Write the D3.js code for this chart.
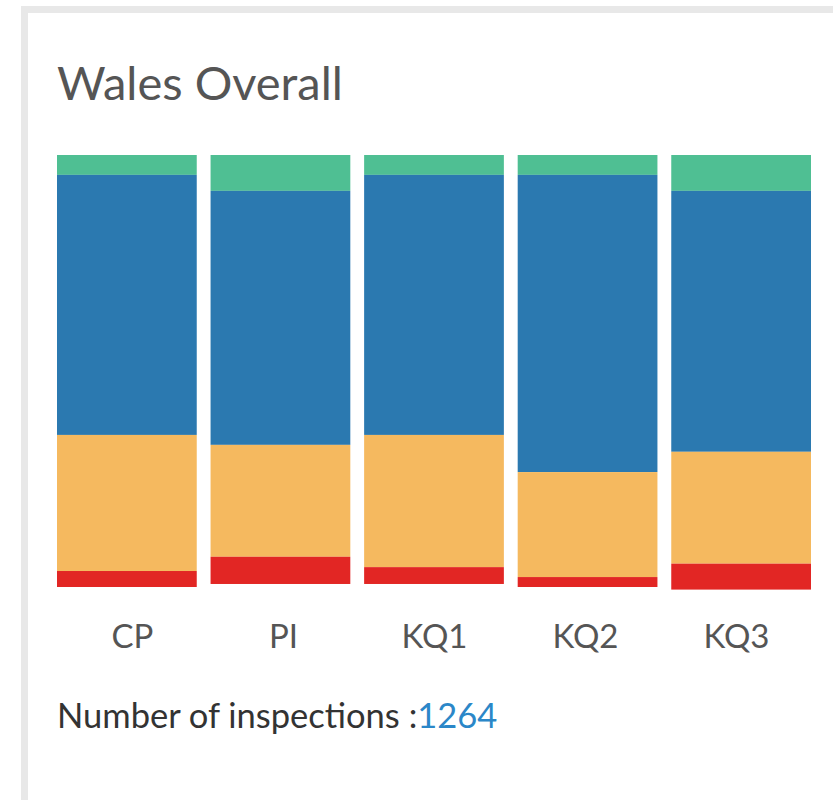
<!DOCTYPE html>
<html>
<head>
<meta charset="utf-8">
<script src="https://cdnjs.cloudflare.com/ajax/libs/d3/7.8.5/d3.min.js"></script>
<style>
	body { margin: 0; background: #fff; }
	svg { display: block; font-family: Lato, 'Open Sans', sans-serif; }
	.title { fill: #555; }
	.axis text { fill: #555; }
	.count { fill: #333; }
	.count-value { fill: #2b87c8; }
</style>
</head>
<body>
<svg></svg>
<script>
var width = 833;
var height = 800;

// inspection areas along the bottom
var areas = ['CP', 'PI', 'KQ1', 'KQ2', 'KQ3'];
// judgement shares (%) per area, top of bar to bottom
var excellent =      [4.6, 8.3, 4.6, 4.6, 8.3];
var good =           [60.2, 58.8, 60.2, 68.8, 60.4];
var adequate =       [31.5, 25.9, 30.6, 24.3, 25.9];
var unsatisfactory = [3.7, 6.3, 3.9, 2.3, 6.0];
var inspections = 1264;

var keys = ['excellent', 'good', 'adequate', 'unsatisfactory'];
var colors = ['#4fbf93', '#2b79b0', '#f5b95f', '#e22624'];

var data = areas.map((a, i) => ({
	area: a,
	excellent: excellent[i],
	good: good[i],
	adequate: adequate[i],
	unsatisfactory: unsatisfactory[i]
}));

var svg = d3.select('svg')
			.attr('width', width)
			.attr('height', height);

// panel frame, runs off the right and bottom edges
svg.append('rect')
	.attr('x', 24.5)
	.attr('y', 9.5)
	.attr('width', width + 20)
	.attr('height', height + 20)
	.attr('fill', '#fff')
	.attr('stroke', '#e8e8e8')
	.attr('stroke-width', 7);

svg.append('text')
	.classed('title', true)
	.attr('x', 57)
	.attr('y', 100)
	.attr('font-size', 47)
	.text('Wales Overall');

var xScale = d3.scaleBand()
			   .domain(areas)
			   .range([57, 811])
			   .paddingInner(0.09)
			   .paddingOuter(0);
var labelScale = d3.scaleBand()
				   .domain(areas)
				   .range([57, 812])
				   .padding(0);
// stacked from the top down
var yScale = d3.scaleLinear()
			   .domain([0, 100])
			   .range([155, 587]);

var series = d3.stack().keys(keys)(data);

svg.selectAll('.layer')
	.data(series)
	.enter()
	.append('g')
	  .classed('layer', true)
	  .attr('fill', (d, i) => colors[i])
	.selectAll('rect')
	.data(d => d)
	.enter()
	.append('rect')
	  .attr('x', d => xScale(d.data.area))
	  .attr('y', d => yScale(d[0]))
	  .attr('width', xScale.bandwidth())
	  .attr('height', d => yScale(d[1]) - yScale(d[0]));

var xAxis = d3.axisBottom(labelScale)
			  .tickSize(0)
			  .tickPadding(0);

svg.append('g')
	.classed('axis', true)
	.attr('transform', 'translate(0, 625)')
	.call(xAxis)
	.call(g => g.select('.domain').remove())
	.selectAll('text')
	  .attr('font-family', 'Lato, sans-serif')
	  .attr('font-size', 33)
	  .attr('dy', '0.71em');

var count = svg.append('text')
			   .classed('count', true)
			   .attr('x', 57)
			   .attr('y', 728)
			   .attr('font-size', 34.5);
count.append('tspan').text('Number of inspections :');
count.append('tspan').classed('count-value', true).text(inspections);
</script>
</body>
</html>
